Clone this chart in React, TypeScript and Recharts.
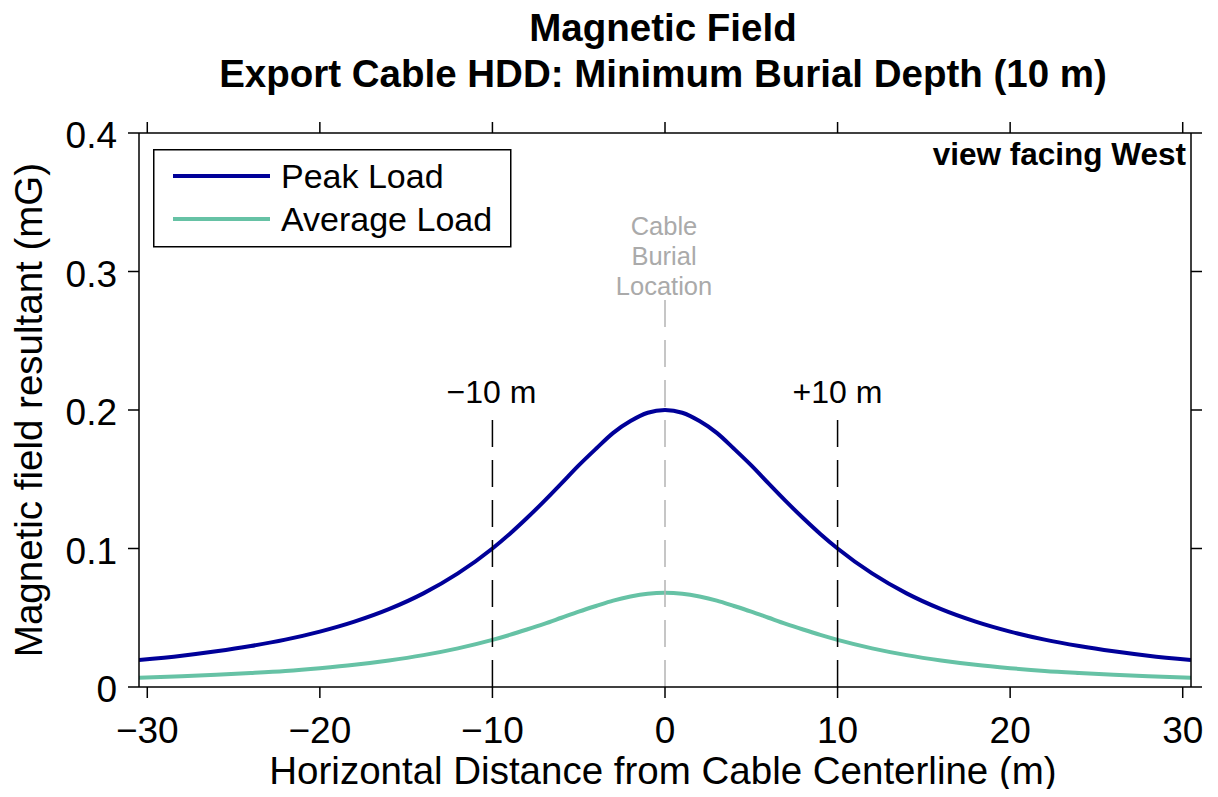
import React from 'react';
import { LineChart, Line, XAxis, YAxis, ReferenceLine, Legend } from 'recharts';

// Horizontal distance from cable centerline (m)
const distance = [
  -30.48, -28, -26, -24, -22, -20, -18, -16, -14, -12, -10, -9, -8, -7, -6, -5, -4, -3, -2, -1,
  0, 1, 2, 3, 4, 5, 6, 7, 8, 9, 10, 12, 14, 16, 18, 20, 22, 24, 26, 28, 30.48,
];
// Magnetic field resultant (mG), Peak Load
const peakLoad = [
  0.0194, 0.0226, 0.0258, 0.0296, 0.0342, 0.04, 0.0472, 0.0562, 0.0676, 0.082, 0.1, 0.1105, 0.122,
  0.1342, 0.147, 0.16, 0.172, 0.1835, 0.192, 0.198,
  0.2, 0.198, 0.192, 0.1835, 0.172, 0.16, 0.147, 0.1342, 0.122, 0.1105, 0.1, 0.082, 0.0676, 0.0562,
  0.0472, 0.04, 0.0342, 0.0296, 0.0258, 0.0226, 0.0194,
];
// Magnetic field resultant (mG), Average Load
const averageLoad = [
  0.0066, 0.0077, 0.0088, 0.0101, 0.0116, 0.0136, 0.016, 0.0191, 0.023, 0.0279, 0.034, 0.0376,
  0.0415, 0.0456, 0.05, 0.0544, 0.0585, 0.0624, 0.0653, 0.0673,
  0.068, 0.0673, 0.0653, 0.0624, 0.0585, 0.0544, 0.05, 0.0456, 0.0415, 0.0376, 0.034, 0.0279, 0.023,
  0.0191, 0.016, 0.0136, 0.0116, 0.0101, 0.0088, 0.0077, 0.0066,
];
const seriesNames = ['Peak Load', 'Average Load'];
const xTicks = [-30, -20, -10, 0, 10, 20, 30];
const yTicks = [0, 0.1, 0.2, 0.3, 0.4];
const xDomain = [-30.48, 30.48];
const yDomain = [0, 0.4];
const markerX = [-10, 10];
const markerLabels = ['\u221210 m', '+10 m'];
const markerTop = 0.1935;
const centerTop = 0.2794;

const data = distance.map((d, i) => ({ distance: d, peak: peakLoad[i], average: averageLoad[i] }));

const FONT = '"Liberation Sans", Arial, Helvetica, sans-serif';
const W = 1202;
const H = 781;

const fmtX = (v: number) => (v < 0 ? '\u2212' + Math.abs(v) : String(v));
const fmtY = (v: number) => String(v);
const NoTick = () => <g />;

const LegendBox = (props: any) => {
  const payload = [...(props.payload || [])].sort(
    (a: any, b: any) => seriesNames.indexOf(a.value) - seriesNames.indexOf(b.value)
  );
  return (
    <svg width={359} height={99} style={{ display: 'block', fontFamily: FONT }}>
      <rect x={0.75} y={0.75} width={357} height={97} fill="#fff" stroke="#000" strokeWidth={1.5} />
      {payload.map((p: any, i: number) => (
        <g key={i}>
          <line x1={20} x2={117} y1={27 + i * 43} y2={27 + i * 43} stroke={p.color} strokeWidth={4} />
          <text x={128} y={39 + i * 43} fontSize={34} fill="#000">
            {p.value}
          </text>
        </g>
      ))}
    </svg>
  );
};

export default function App() {
  return (
    <div style={{ position: 'relative', width: W, height: H, fontFamily: FONT }}>
      <LineChart
        width={W}
        height={H}
        data={data}
        margin={{ top: 124, right: 18, left: 0, bottom: 52 }}
        style={{ fontFamily: FONT }}
      >
        <XAxis
          xAxisId="bottom"
          dataKey="distance"
          type="number"
          domain={xDomain}
          ticks={xTicks}
          tickFormatter={fmtX}
          allowDataOverflow
          height={50}
          tickSize={11}
          tickMargin={19}
          axisLine={{ stroke: '#000', strokeWidth: 1.5 }}
          tickLine={{ stroke: '#000', strokeWidth: 1.5 }}
          tick={{ fill: '#000', fontSize: 37, fontFamily: FONT }}
        />
        <XAxis
          xAxisId="top"
          orientation="top"
          dataKey="distance"
          type="number"
          domain={xDomain}
          ticks={xTicks}
          allowDataOverflow
          height={1}
          tickSize={11}
          axisLine={{ stroke: '#000', strokeWidth: 1.5 }}
          tickLine={{ stroke: '#000', strokeWidth: 1.5 }}
          tick={NoTick}
        />
        <YAxis
          yAxisId="left"
          type="number"
          domain={yDomain}
          ticks={yTicks}
          tickFormatter={fmtY}
          allowDataOverflow
          width={131}
          tickSize={11}
          tickMargin={11}
          axisLine={{ stroke: '#000', strokeWidth: 1.5 }}
          tickLine={{ stroke: '#000', strokeWidth: 1.5 }}
          tick={{ fill: '#000', fontSize: 37, fontFamily: FONT, dy: 2 }}
        />
        <YAxis
          yAxisId="right"
          orientation="right"
          type="number"
          domain={yDomain}
          ticks={yTicks}
          allowDataOverflow
          width={1}
          tickSize={11}
          axisLine={{ stroke: '#000', strokeWidth: 1.5 }}
          tickLine={{ stroke: '#000', strokeWidth: 1.5 }}
          tick={NoTick}
        />
        <Line
          xAxisId="bottom"
          yAxisId="left"
          type="monotone"
          dataKey="peak"
          name={seriesNames[0]}
          stroke="#000099"
          strokeWidth={4}
          dot={false}
          activeDot={false}
          isAnimationActive={false}
        />
        <Line
          xAxisId="bottom"
          yAxisId="left"
          type="monotone"
          dataKey="average"
          name={seriesNames[1]}
          stroke="#66c2a5"
          strokeWidth={4}
          dot={false}
          activeDot={false}
          isAnimationActive={false}
        />
        <ReferenceLine
          xAxisId="bottom"
          yAxisId="left"
          segment={[{ x: 0, y: 0 }, { x: 0, y: centerTop }]}
          stroke="#b4b4b4"
          strokeWidth={1.5}
          strokeDasharray="27 13"
        />
        {markerX.map((mx) => (
          <ReferenceLine
            key={mx}
            xAxisId="bottom"
            yAxisId="left"
            segment={[{ x: mx, y: 0 }, { x: mx, y: markerTop }]}
            stroke="#000"
            strokeWidth={1.5}
            strokeDasharray="27 13"
          />
        ))}
        <Legend
          layout="vertical"
          align="center"
          verticalAlign="middle"
          content={<LegendBox />}
          wrapperStyle={{ left: 145, top: 141, width: 359, height: 99 }}
        />
      </LineChart>
      <svg
        width={W}
        height={H}
        overflow="visible"
        style={{ position: 'absolute', left: 0, top: 0, pointerEvents: 'none', fontFamily: FONT, overflow: 'visible' }}
      >
        <text x={655} y={33} textAnchor="middle" fontSize={38.5} fontWeight="bold" fill="#000">
          Magnetic Field
        </text>
        <text x={655} y={79} textAnchor="middle" fontSize={38.5} fontWeight="bold" fill="#000">
          Export Cable HDD: Minimum Burial Depth (10 m)
        </text>
        <text x={1178} y={157} textAnchor="end" fontSize={31.5} fontWeight="bold" fill="#000">
          view facing West
        </text>
        <text x={656} y={227} textAnchor="middle" fontSize={25.5} fill="#aaaaaa">Cable</text>
        <text x={656} y={257} textAnchor="middle" fontSize={25.5} fill="#aaaaaa">Burial</text>
        <text x={656} y={287} textAnchor="middle" fontSize={25.5} fill="#aaaaaa">Location</text>
        <text x={483.5} y={395} textAnchor="middle" fontSize={32} fill="#000">{markerLabels[0]}</text>
        <text x={829.5} y={395} textAnchor="middle" fontSize={32} fill="#000">{markerLabels[1]}</text>
        <text x={655} y={776} textAnchor="middle" fontSize={38.5} fill="#000">
          Horizontal Distance from Cable Centerline (m)
        </text>
        <text
          x={34}
          y={402}
          transform="rotate(-90 34 402)"
          textAnchor="middle"
          fontSize={38.5}
          fill="#000"
        >
          Magnetic field resultant (mG)
        </text>
      </svg>
    </div>
  );
}
